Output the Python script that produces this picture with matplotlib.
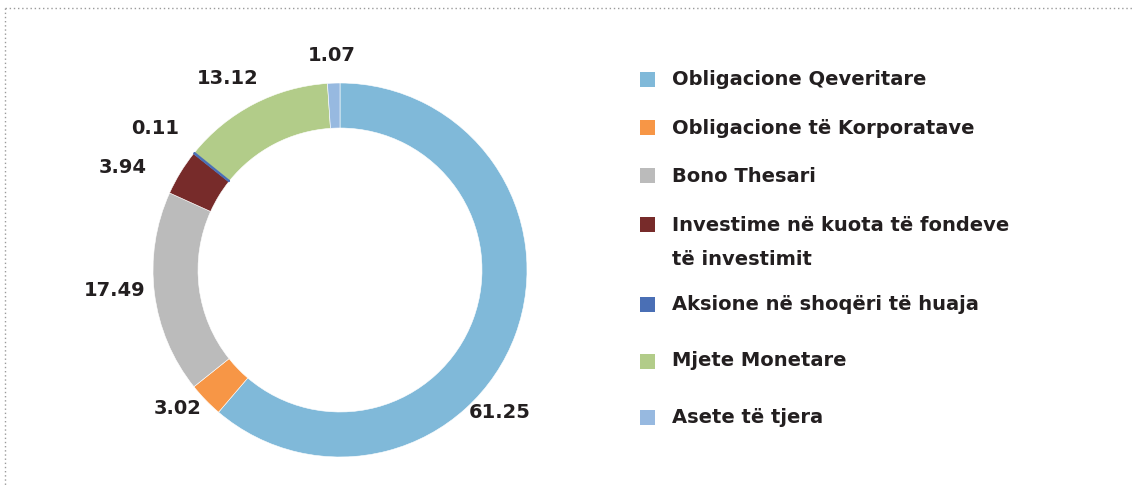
import matplotlib
matplotlib.use("Agg")
import matplotlib.pyplot as plt
from matplotlib.patches import Rectangle
import numpy as np

# ---- data ----
categories = [
    "Obligacione Qeveritare",
    "Obligacione të Korporatave",
    "Bono Thesari",
    "Investime në kuota të fondeve\ntë investimit",
    "Aksione në shoqëri të huaja",
    "Mjete Monetare",
    "Asete të tjera",
]
values = [61.25, 3.02, 17.49, 3.94, 0.11, 13.12, 1.07]
value_labels = ["61.25", "3.02", "17.49", "3.94", "0.11", "13.12", "1.07"]
colors = ["#80B9D9", "#F79646", "#BBBBBB", "#772B2A", "#4A6FB5", "#B2CC89", "#97B9E0"]

# ---- layout (pixel space, y up) ----
W, H = 1132, 486
fig = plt.figure(figsize=(W / 100, H / 100), dpi=100)
ax = fig.add_axes([0, 0, 1, 1])
cx, cy = 340, H - 270
R = 187
ring = 45

wedges, _ = ax.pie(values, colors=colors, startangle=90, counterclock=False,
                   radius=R, center=(cx, cy),
                   wedgeprops=dict(width=ring, edgecolor="white", linewidth=0.4))
# make very thin slices visible (as in the original rendering)
for w, v, c in zip(wedges, values, colors):
    if v < 0.5:
        w.set_edgecolor(c)
        w.set_linewidth(1.0)
        w.set_zorder(3)
ax.set_xlim(0, W)
ax.set_ylim(0, H)
ax.set_aspect("auto")
ax.axis("off")

txt_color = "#231F20"
font = dict(family="DejaVu Sans", fontweight="bold", color=txt_color)
FS = 14

# data label placement (angle in degrees, distance in px from centre)
label_pos = [(-41.6, 214), (220.5, 214), (185.3, 226), (154.8, 240),
             (142.7, 233), (120.3, 222), (92.1, 215)]
for lab, (ang, dist) in zip(value_labels, label_pos):
    a = np.deg2rad(ang)
    ax.text(cx + dist * np.cos(a), cy + dist * np.sin(a), lab,
            ha="center", va="center", fontsize=FS, **font)

# legend, drawn manually
leg_y = [80, 128, 176, 225, 304, 361, 417]
line_pitch = 35
for cat, col, y in zip(categories, colors, leg_y):
    yy = H - y
    ax.add_patch(Rectangle((640, yy - 7.5), 15, 15, facecolor=col, edgecolor="none"))
    nlines = cat.count("\n") + 1
    ty = yy - (nlines - 1) * line_pitch / 2
    ax.text(672, ty, cat, ha="left", va="center", multialignment="left",
            fontsize=FS, linespacing=2.0, **font)

# dotted border (top and left)
ax.plot([5, W], [H - 8, H - 8], ls=(0, (1, 2)), color="#9A9A9A", lw=1)
ax.plot([5, 5], [H - 8, 0], ls=(0, (1, 2)), color="#9A9A9A", lw=1)

fig.savefig("out.png", dpi=100, facecolor="white")
